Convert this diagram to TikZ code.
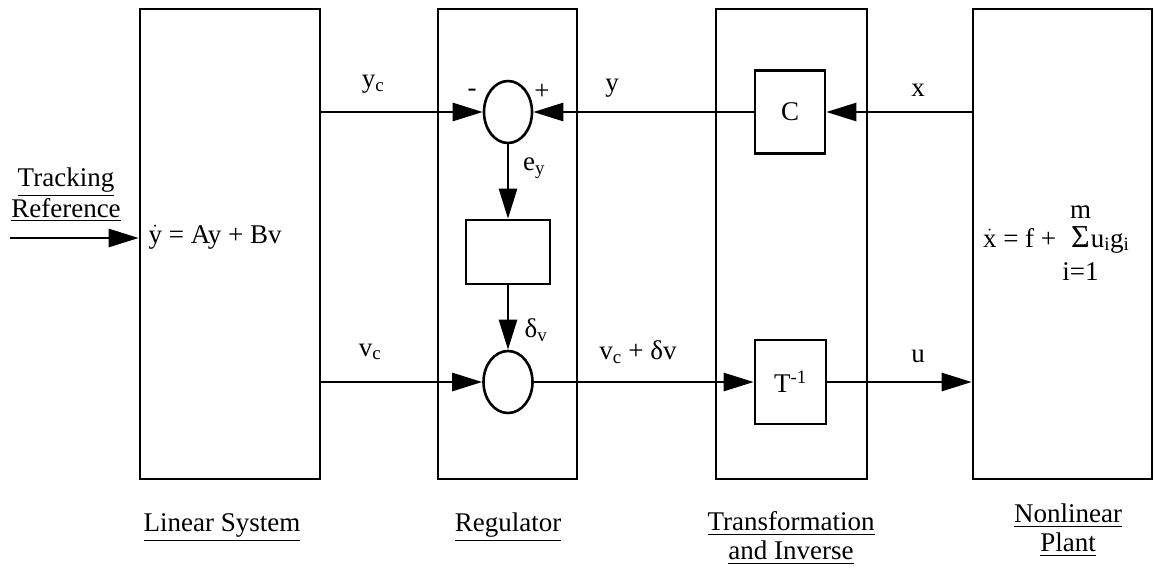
\documentclass[tikz,border=0pt]{standalone}
\usepackage{fontspec}
\setmainfont{Liberation Serif}
\usepackage{amsmath}
\usetikzlibrary{arrows.meta,shapes.geometric}

\tikzset{
  bigbox/.style={draw,line width=2.6pt,minimum width=#1,minimum height=470pt,inner sep=0pt},
  blk/.style={draw,line width=2.6pt,inner sep=0pt},
  sumnode/.style={draw,ellipse,line width=2.6pt,minimum width=48pt,minimum height=62pt,inner sep=0pt},
  sig/.style={line width=2.6pt,-{Triangle[length=30pt,width=18pt]}},
  tight/.style={inner sep=0pt,outer sep=0pt}
}

\begin{document}
\begin{tikzpicture}[x=1pt,y=-1pt,font=\fontsize{27}{29}\selectfont]
  \useasboundingbox (0,0) rectangle (1155,571);

  % Four big blocks
  \node[bigbox=180pt] (lin) at (230,244) {};
  \node[bigbox=139pt] (reg) at (507.5,244) {};
  \node[bigbox=151pt] (trans) at (791.5,244) {};
  \node[bigbox=179pt] (plant) at (1062.5,244) {};

  % Inside the blocks
  \node[sumnode] (sum1) at (508,112) {};
  \node[blk,minimum width=84pt,minimum height=64pt] (gain) at (508,252) {};
  \node[sumnode,minimum width=49pt] (sum2) at (508,382) {};
  \node[blk,minimum width=70pt,minimum height=83pt] (cmat) at (790,112) {C};
  \node[blk,minimum width=71pt,minimum height=84pt] (tinv) at (790.5,382) {T\textsuperscript{-1}};

  \node[anchor=base west] (lineq) at (145,243) {$\dot{\text{y}}$ = Ay + Bv};

  % plant equation, limits set apart
  \node[tight,anchor=base west] (planteq) at (983,247) {$\dot{\text{x}}$ = f +};
  \node[tight,anchor=base west,font=\fontsize{32}{32}\selectfont] (sigma) at ([xshift=15pt]planteq.base east) {Σ};
  \node[tight,anchor=base west] (ugi) at ([xshift=1pt]sigma.base east) {u\textsubscript{i}g\textsubscript{i}};
  \node[tight,anchor=base] (supm) at ([yshift=29pt]sigma.base) {m};
  \node[tight,anchor=base] (subi) at ([yshift=-33pt]sigma.base) {i=1};

  % Input
  \node[align=center] (trkref) at (66,195) {\underline{Tracking}\\\underline{Reference}};
  \coordinate (trk) at (10,238);

  % Signals
  \draw[sig] (trk) -- (lin.west |- trk);
  \draw[sig] (lin.east |- sum1) -- (sum1.west);
  \draw[sig] (plant.west |- cmat) -- (cmat.east);
  \draw[sig] (cmat.west) -- (sum1.east);
  \draw[sig] (sum1.south) -- (gain.north);
  \draw[sig] (gain.south) -- (sum2.north);
  \draw[sig] (lin.east |- sum2) -- (sum2.west);
  \draw[sig] (sum2.east) -- (tinv.west);
  \draw[sig] (tinv.east) -- (plant.west |- tinv);

  % Signal labels
  \node (lyc) at (373,84) {y\textsubscript{c}};
  \node (ly) at (612,88) {y};
  \node (lx) at (918,90) {x};
  \node (lminus) at (472,93) {-};
  \node (lplus) at (542,92) {+};
  \node (ley) at (534,168) {e\textsubscript{y}};
  \node (ldv) at (536,330) {δ\textsubscript{v}};
  \node (lvc) at (370,352) {v\textsubscript{c}};
  \node (lsum) at (638,352) {v\textsubscript{c} + δv};
  \node (lu) at (918,356) {u};

  % Block names
  \node[anchor=base] (lsys) at (222,531) {\underline{Linear System}};
  \node[anchor=base] (lreg) at (508,531) {\underline{Regulator}};
  \node[align=center] (ltrans) at (791,538) {\underline{Transformation}\\\underline{and Inverse}};
  \node[align=center] (lplant) at (1068,530) {\underline{Nonlinear}\\\underline{Plant}};
\end{tikzpicture}
\end{document}
